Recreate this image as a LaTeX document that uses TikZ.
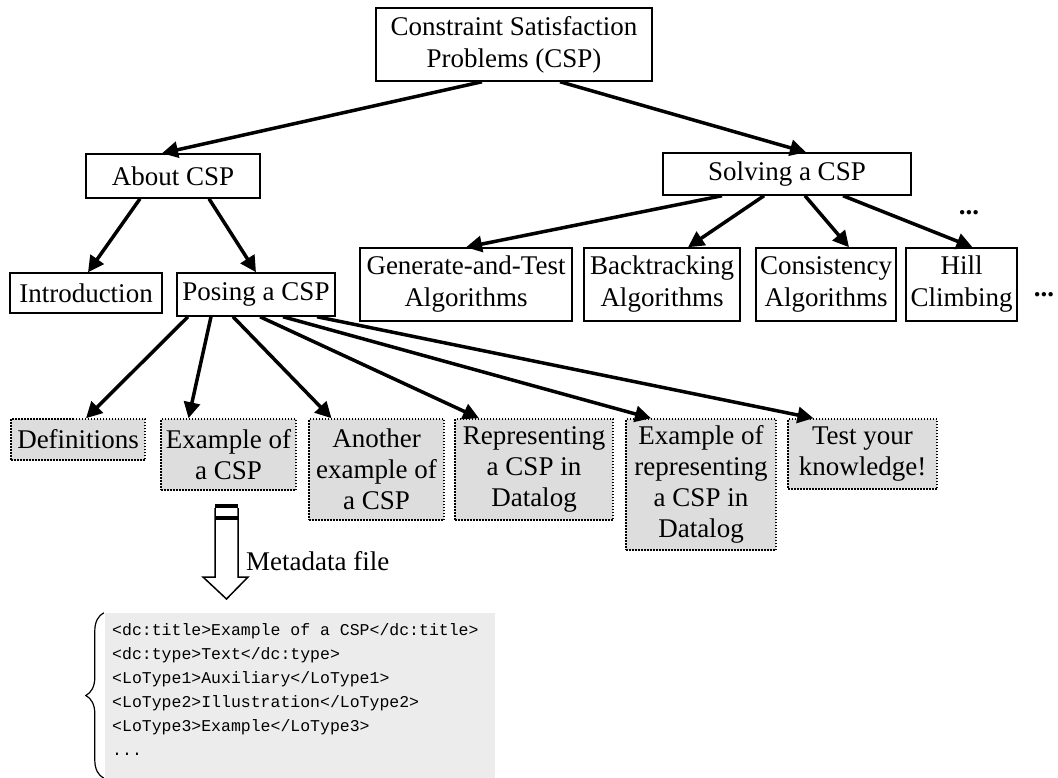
\documentclass[tikz,border=0pt]{standalone}
\usepackage{fontspec}
\setmainfont{Liberation Serif}
\setmonofont{Liberation Mono}
\usetikzlibrary{arrows.meta,positioning,decorations.pathreplacing}

\definecolor{boxgrey}{RGB}{221,221,221}
\definecolor{codegrey}{RGB}{236,236,236}

\begin{document}
\begin{tikzpicture}[x=1pt, y=-1pt,
    topic/.style={rectangle, draw, line width=1.5pt, align=center, inner sep=2pt, font=\fontsize{27}{32}\selectfont},
    lesson/.style={rectangle, draw, dash pattern={on 1.5pt off 1.5pt}, line width=1.5pt, fill=boxgrey, align=center, inner sep=2pt, font=\fontsize{27}{31}\selectfont},
    link/.style={line width=3.5pt, -{Triangle[length=16pt,width=16pt]}},
    more/.style={anchor=base, font=\fontsize{27}{32}\selectfont\bfseries},
    note/.style={anchor=west, inner sep=0pt, font=\fontsize{27}{32}\selectfont}
]
\useasboundingbox (0,0) rectangle (1058,778);

% Top
\node[topic, minimum width=276pt, minimum height=73pt] (csp) at (514,44.5) {Constraint Satisfaction\\Problems (CSP)};

% Second level
\node[topic, minimum width=174pt, minimum height=44pt] (about) at (173,176) {About CSP};
\node[topic, minimum width=248pt, minimum height=42pt] (solving) at (787,174) {Solving a CSP};

% Third level
\node[topic, minimum width=152pt, minimum height=40pt] (intro) at (86,293) {Introduction};
\node[topic, minimum width=158pt, minimum height=43pt] (posing) at (256,294.5) {Posing a CSP};
\node[topic, minimum width=212pt, minimum height=73pt] (gentest) at (466,284.5) {Generate-and-Test\\Algorithms};
\node[topic, minimum width=156pt, minimum height=73pt] (backtrack) at (662,284.5) {Backtracking\\Algorithms};
\node[topic, minimum width=140pt, minimum height=73pt] (consist) at (826,284.5) {Consistency\\Algorithms};
\node[topic, minimum width=111pt, minimum height=73pt] (hill) at (961.5,284.5) {Hill\\Climbing};
\node[more] (moreA) at (969,215) {...};
\node[more] (moreB) at (1044,297) {...};

% Lessons
\node[lesson, minimum width=134pt, minimum height=41pt] (defs) at (78,439.5) {Definitions};
\node[lesson, minimum width=135pt, minimum height=71pt] (example) at (228.5,454.5) {Example of\\a CSP};
\node[lesson, minimum width=135pt, minimum height=101pt] (another) at (376.5,469.5) {Another\\example of\\a CSP};
\node[lesson, minimum width=158pt, minimum height=101pt] (repr) at (534,469.5) {Representing\\a CSP in\\Datalog};
\node[lesson, minimum width=150pt, minimum height=131pt] (exrepr) at (701,484.5) {Example of\\representing\\a CSP in\\Datalog};
\node[lesson, minimum width=149pt, minimum height=70pt] (quiz) at (862.5,454) {Test your\\knowledge!};

% Links
\draw[link] ([xshift=-32pt]csp.south) -- ([xshift=-11pt]about.north);
\draw[link] ([xshift=46pt]csp.south) -- ([xshift=19pt]solving.north);
\draw[link] ([xshift=-33pt]about.south) -- ([xshift=2pt]intro.north);
\draw[link] ([xshift=36pt]about.south) -- (posing.north);
\draw[link] ([xshift=-65pt]solving.south) -- (gentest.north);
\draw[link] ([xshift=-23pt]solving.south) -- ([xshift=26pt]backtrack.north);
\draw[link] ([xshift=18pt]solving.south) -- ([xshift=23pt]consist.north);
\draw[link] ([xshift=56pt]solving.south) -- ([xshift=11pt]hill.north);
\draw[link] ([xshift=-68pt]posing.south) -- ([xshift=8pt]defs.north);
\draw[link] ([xshift=-45pt]posing.south) -- ([xshift=-40pt]example.north);
\draw[link] ([xshift=-23pt]posing.south) -- ([xshift=-45pt]another.north);
\draw[link] ([xshift=4pt]posing.south) -- ([xshift=-55pt]repr.north);
\draw[link] ([xshift=27pt]posing.south) -- ([xshift=-50pt]exrepr.north);
\draw[link] ([xshift=61pt]posing.south) -- ([xshift=-49pt]quiz.north);

% Metadata arrow
\fill (215,504) rectangle (238,508);
\fill (215,516) rectangle (238,520);
\draw[line width=1.5pt] (215,508) -- (215,577) -- (203,577) -- (226.5,599) -- (248,577) -- (238,577) -- (238,508);
\node[note] (meta) at (246,561) {Metadata file};

% Metadata record
\node[fill=codegrey, minimum width=390pt, minimum height=165pt, inner sep=0pt] (codebg) at (300,695.5) {};
\node[anchor=north west, align=left, inner sep=0pt, font=\ttfamily\fontsize{16.5}{24}\selectfont] (code) at (112,623) {<dc:title>Example of a CSP</dc:title>\\<dc:type>Text</dc:type>\\<LoType1>Auxiliary</LoType1>\\<LoType2>Illustration</LoType2>\\<LoType3>Example</LoType3>\\...};
\draw[line width=1.2pt, decorate, decoration={brace, amplitude=18pt}] ([xshift=-1pt]codebg.south west) -- ([xshift=-1pt]codebg.north west);

\end{tikzpicture}
\end{document}
